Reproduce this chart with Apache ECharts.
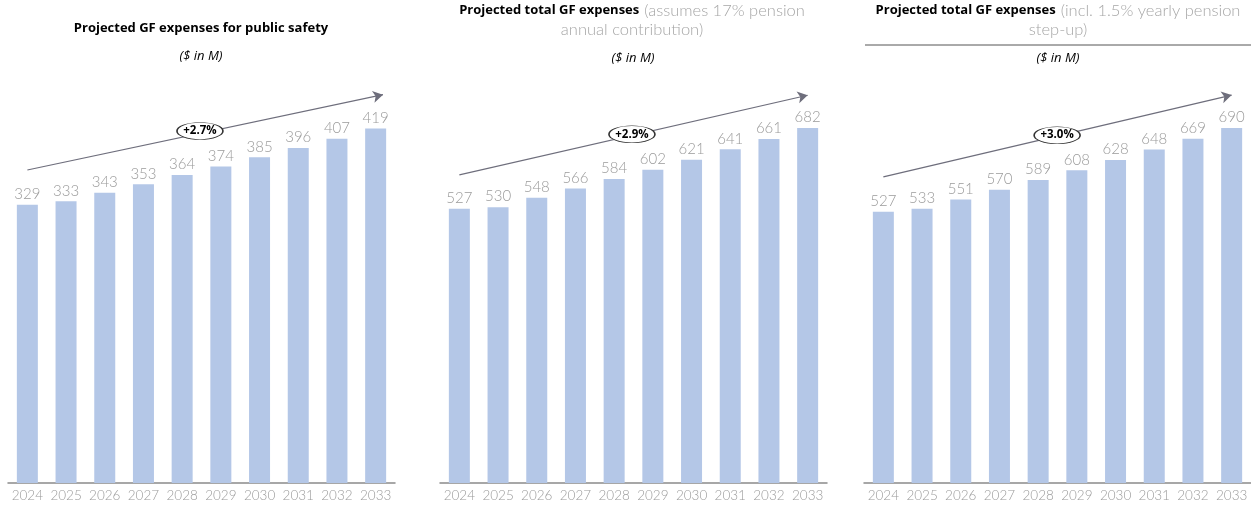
<!DOCTYPE html>
<html>
<head>
<meta charset="utf-8">
<script src="https://cdn.jsdelivr.net/npm/echarts@6/dist/echarts.min.js"></script>
<style>
  html, body { margin: 0; padding: 0; background: #fff; }
  #main { width: 1251px; height: 508px; }
</style>
</head>
<body>
<div id="main"></div>
<script>
// years shared by all three panels
var years = ['2024', '2025', '2026', '2027', '2028', '2029', '2030', '2031', '2032', '2033'];

// values ($ in M)
var publicSafety = [329, 333, 343, 353, 364, 374, 385, 396, 407, 419];
var totalBase = [527, 530, 548, 566, 584, 602, 621, 641, 661, 682];
var totalStepUp = [527, 533, 551, 570, 589, 608, 628, 648, 669, 690];

// CAGR labels
var growth = ['+2.7%', '+2.9%', '+3.0%'];

// trend arrows in (category index, value): start and end point
var arrowStart = [[0, 370], [0, 592], [0, 595]];
var arrowEnd = [[9.19, 459], [9.0, 745], [9.0, 754]];
// where the growth badge sits
var badges = [[4.46, 416], [4.46, 670], [4.49, 676]];

var barColor = '#b4c7e7';
var grey = '#9b9b9b';

var grids = [
  { left: 8, width: 387, top: 60, bottom: 25 },
  { left: 440, width: 387, top: 66.6, bottom: 25 },
  { left: 864, width: 387, top: 71.4, bottom: 25 }
];
var maxes = [500, 800, 800];
var seriesData = [publicSafety, totalBase, totalStepUp];

var chart = echarts.init(document.getElementById('main'));

var xAxes = [], yAxes = [], series = [];
for (var i = 0; i < 3; i++) {
  xAxes.push({
    type: 'category', gridIndex: i, data: years,
    axisLine: { lineStyle: { color: '#8a8a8a', width: 1.5 } },
    axisTick: { show: false },
    axisLabel: { interval: 0, color: grey, fontSize: 13.5, fontFamily: 'Lato', fontWeight: 300, margin: 6 }
  });
  yAxes.push({ type: 'value', gridIndex: i, min: 0, max: maxes[i], show: false });
  series.push({
    type: 'bar', xAxisIndex: i, yAxisIndex: i,
    data: seriesData[i], barWidth: 21,
    itemStyle: { color: barColor },
    label: { show: true, position: 'top', distance: 3, color: grey, fontSize: 15, fontFamily: 'Lato', fontWeight: 300 }
  });
}
// hidden value x-axes (same span as the categories) for the trend arrows
for (var j = 0; j < 3; j++) {
  xAxes.push({ type: 'value', gridIndex: j, min: -0.5, max: 9.5, show: false });
  series.push({
    type: 'line', xAxisIndex: 3 + j, yAxisIndex: j,
    data: [arrowStart[j], arrowEnd[j]],
    showSymbol: false, silent: true,
    lineStyle: { opacity: 0 },
    markLine: {
      silent: true, symbol: ['none', 'arrow'], symbolSize: [9, 10],
      lineStyle: { color: '#6e6e7c', width: 1.2, type: 'solid' },
      label: { show: false },
      data: [[{ coord: arrowStart[j] }, { coord: arrowEnd[j] }]]
    },
    markPoint: {
      silent: true,
      symbol: 'circle', symbolSize: [46, 17],
      itemStyle: { color: '#fff', borderColor: '#333', borderWidth: 1 },
      label: { show: true, color: '#000', fontWeight: 'bold', fontSize: 11.5, fontFamily: 'Open Sans', formatter: growth[j] },
      data: [{ coord: badges[j] }]
    }
  });
}

var richTitle = {
  b: { fontSize: 13, fontWeight: 'bold', color: '#000', fontFamily: 'Open Sans', lineHeight: 19 },
  g: { fontSize: 16.5, color: '#a6a6a6', fontFamily: 'Lato', fontWeight: 300, lineHeight: 19 }
};
var unitStyle = { fontSize: 13, fontStyle: 'italic', fontWeight: 'normal', color: '#000', fontFamily: 'Open Sans' };

chart.setOption({
  animation: false,
  title: [
    {
      text: 'Projected GF expenses for public safety',
      left: 201, top: 22, textAlign: 'center', padding: 0,
      textStyle: { fontSize: 13, fontWeight: 'bold', color: '#000', fontFamily: 'Open Sans' }
    },
    {
      text: '{b|Projected total GF expenses} {g|(assumes 17% pension}\n{g|annual contribution)}',
      left: 632, top: 1, textAlign: 'center', padding: 0,
      textStyle: { rich: richTitle }
    },
    {
      text: '{b|Projected total GF expenses} {g|(incl. 1.5% yearly pension}\n{g|step-up)}',
      left: 1058, top: 1, textAlign: 'center', padding: 0,
      textStyle: { rich: richTitle }
    },
    { text: '($ in M)', left: 201, top: 50, textAlign: 'center', padding: 0, textStyle: unitStyle },
    { text: '($ in M)', left: 633, top: 52, textAlign: 'center', padding: 0, textStyle: unitStyle },
    { text: '($ in M)', left: 1058, top: 52, textAlign: 'center', padding: 0, textStyle: unitStyle }
  ],
  graphic: [
    { type: 'line', shape: { x1: 865, y1: 45, x2: 1251, y2: 45 }, style: { stroke: '#555', lineWidth: 1 } }
  ],
  grid: grids,
  xAxis: xAxes,
  yAxis: yAxes,
  series: series
});
window.addEventListener('resize', chart.resize);
</script>
</body>
</html>
